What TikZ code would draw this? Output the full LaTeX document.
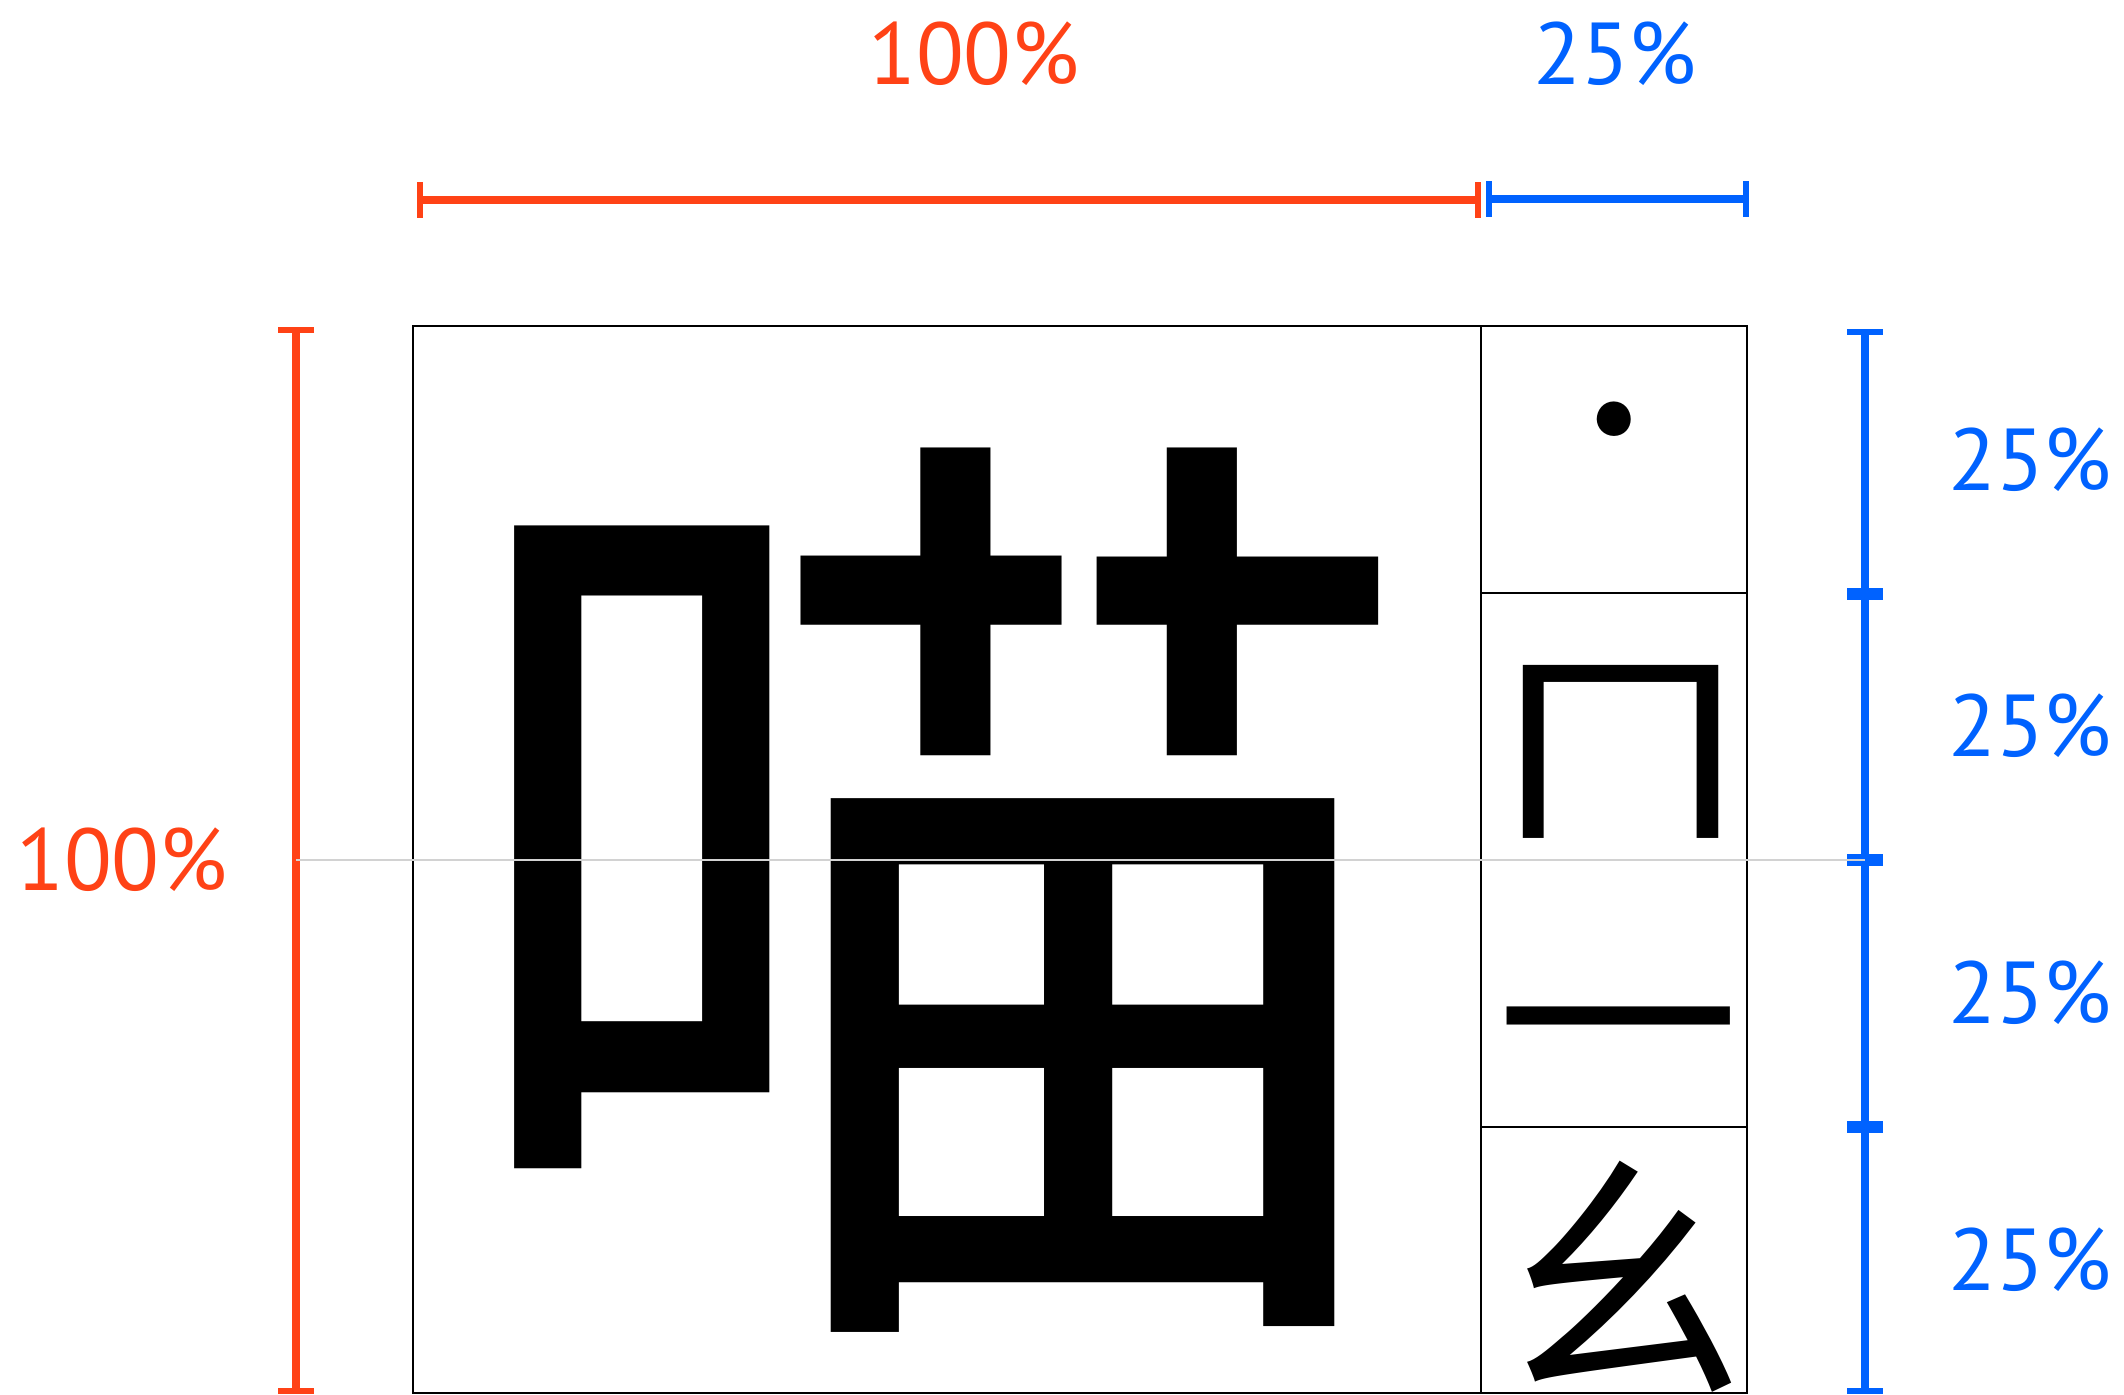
\documentclass[tikz,border=0pt]{standalone}
\usepackage{xcolor}
\definecolor{dimRed}{RGB}{255, 66, 22}
\definecolor{dimBlue}{RGB}{0, 98, 255}
\usepackage{fontspec}
\setmainfont{PT Sans}
\newfontfamily\cjkfont{Noto Sans CJK TC}
\usepackage{tikz}
\usetikzlibrary{arrows.meta}

\begin{document}
\begin{tikzpicture}[x=0.01cm, y=-0.01cm,
  cell/.style={draw=black, line width=0.6pt},
  hanzi/.style={inner sep=0pt, font=\cjkfont\fontsize{277pt}{277pt}\selectfont},
  zhuyin/.style={inner sep=0pt, font=\cjkfont\fontsize{75pt}{75pt}\selectfont},
  tonemark/.style={inner sep=0pt, font=\cjkfont\fontsize{52pt}{52pt}\selectfont},
  pct/.style={inner sep=0pt, font=\fontsize{25pt}{30pt}\selectfont},
  reddim/.style={draw=dimRed, line width=2.3pt,
                 {Bar[width=10pt, line width=1.6pt]}-{Bar[width=10pt, line width=1.6pt]}},
  bluedim/.style={draw=dimBlue, line width=2.3pt,
                  {Bar[width=10pt, line width=1.8pt]}-{Bar[width=10pt, line width=1.8pt]}},
  midline/.style={draw=gray!35, line width=0.6pt}]

  \useasboundingbox (0,0) rectangle (2124,1395);

  % ---- Boxes ----
  \draw[cell] (413,326) rectangle (1481,1393);
  \draw[cell] (1481,326) rectangle (1747,1393);
  \draw[cell] (1481,593) -- (1747,593);
  \draw[cell] (1481,860) -- (1747,860);
  \draw[cell] (1481,1127) -- (1747,1127);

  % ---- Character and Zhuyin ----
  \node[hanzi]    (miao) at (931,890)   {喵};
  \node[tonemark] (tone) at (1614,446)  {˙};
  \node[zhuyin]   (mm)   at (1620,752)  {\scalebox{1}[0.85]{ㄇ}};
  \node[zhuyin]   (ii)   at (1620,1054) {\scalebox{1.12}[0.85]{ㄧ}};
  \node[zhuyin]   (ao)   at (1620,1277) {ㄠ};

  % ---- Dimension ends ----
  \coordinate (topL)  at (417,200);
  \coordinate (topM)  at (1481,200);
  \coordinate (topM2) at (1486,199);
  \coordinate (topR)  at (1749,199);
  \coordinate (leftT) at (296,327);
  \coordinate (leftB) at (296,1394);
  \coordinate (rgtA)  at (1865,329);
  \coordinate (rgtB)  at (1865,594);
  \coordinate (rgtC)  at (1865,860);
  \coordinate (rgtD)  at (1865,1127);
  \coordinate (rgtE)  at (1865,1394);

  % ---- Dimension bars ----
  \draw[reddim]  (topL) -- (topM);
  \draw[bluedim] (topM2) -- (topR);
  \draw[reddim]  (leftT) -- (leftB);
  \draw[bluedim] (rgtA) -- (rgtB);
  \draw[bluedim] (rgtB) -- (rgtC);
  \draw[bluedim] (rgtC) -- (rgtD);
  \draw[bluedim] (rgtD) -- (rgtE);

  % ---- Labels ----
  \node[pct, text=dimRed]  (wfull) at (974,54)   {100\%};
  \node[pct, text=dimBlue] (wqtr)  at (1615,54)  {25\%};
  \node[pct, text=dimRed]  (hfull) at (122,860)  {100\%};
  \node[pct, text=dimBlue] (hq1)   at (2030,460) {25\%};
  \node[pct, text=dimBlue] (hq2)   at (2030,726) {25\%};
  \node[pct, text=dimBlue] (hq3)   at (2030,993) {25\%};
  \node[pct, text=dimBlue] (hq4)   at (2030,1260) {25\%};

  % ---- Middle line ----
  \draw[midline] (leftT |- rgtC) -- (rgtC);

\end{tikzpicture}
\end{document}
